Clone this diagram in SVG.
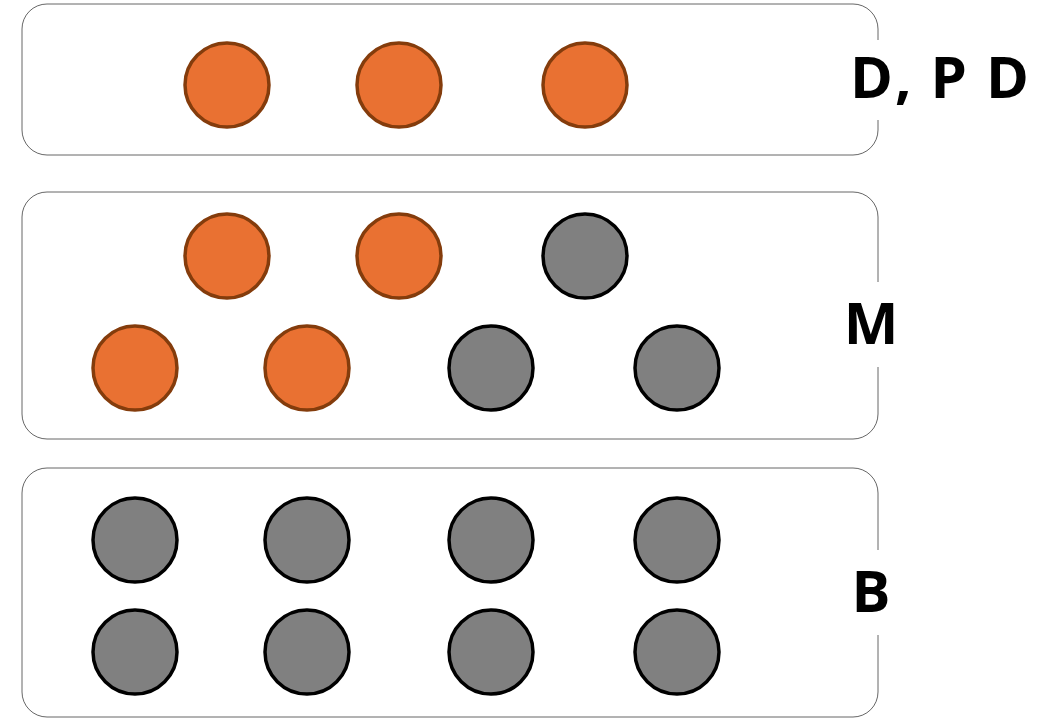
<svg xmlns="http://www.w3.org/2000/svg" width="1056" height="718" viewBox="0 0 1056 718">
<style>
.panel{fill:#fff;stroke:#000;stroke-width:1;stroke-opacity:0.6}
.o{fill:#E97132;stroke:#843C0C;stroke-width:3.5}
.g{fill:#808080;stroke:#000;stroke-width:3.5}
.lbl{font-family:"Open Sans","Liberation Sans",Arial,sans-serif;font-weight:700;font-size:58px;fill:#000}
.bg{fill:#fff}
</style>
<rect width="1056" height="718" fill="#fff"/>
<g id="panel-top">
<rect class="panel" x="22" y="4" width="856" height="151" rx="25"/>
<rect class="bg" x="845" y="40" width="200" height="80"/>
<text class="lbl" x="850" y="98" letter-spacing="2">D, P D</text>
<circle class="o" cx="227" cy="85" r="42"/>
<circle class="o" cx="399" cy="85" r="42"/>
<circle class="o" cx="585" cy="85" r="42"/>
</g>
<g id="panel-middle">
<rect class="panel" x="22" y="192" width="856" height="247" rx="25"/>
<rect class="bg" x="845" y="282" width="60" height="85"/>
<text class="lbl" x="871" y="344" text-anchor="middle">M</text>
<circle class="o" cx="227" cy="256" r="42"/>
<circle class="o" cx="399" cy="256" r="42"/>
<circle class="g" cx="585" cy="256" r="42"/>
<circle class="o" cx="135" cy="368" r="42"/>
<circle class="o" cx="307" cy="368" r="42"/>
<circle class="g" cx="491" cy="368" r="42"/>
<circle class="g" cx="677" cy="368" r="42"/>
</g>
<g id="panel-bottom">
<rect class="panel" x="22" y="468" width="856" height="249" rx="25"/>
<rect class="bg" x="845" y="550" width="60" height="85"/>
<text class="lbl" x="871" y="612" text-anchor="middle">B</text>
<circle class="g" cx="135" cy="540" r="42"/>
<circle class="g" cx="307" cy="540" r="42"/>
<circle class="g" cx="491" cy="540" r="42"/>
<circle class="g" cx="677" cy="540" r="42"/>
<circle class="g" cx="135" cy="652" r="42"/>
<circle class="g" cx="307" cy="652" r="42"/>
<circle class="g" cx="491" cy="652" r="42"/>
<circle class="g" cx="677" cy="652" r="42"/>
</g>
<g id="connectors"/>
</svg>
